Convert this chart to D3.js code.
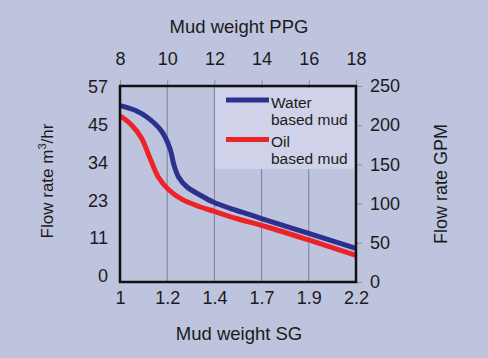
<!DOCTYPE html>
<html>
<head>
<meta charset="utf-8">
<script src="https://cdn.jsdelivr.net/npm/d3@7"></script>
<style>
  html, body { margin: 0; padding: 0; background: #bec3de; }
  svg { display: block; font-family: "Liberation Sans", Arial, sans-serif; }
</style>
</head>
<body>
<svg id="chart" width="488" height="358"></svg>
<script>
// ---- data ----
const ppgTicks = [8, 10, 12, 14, 16, 18];
const sgLabels = ["1", "1.2", "1.4", "1.7", "1.9", "2.2"];
const m3hrLabels = ["0", "11", "23", "34", "45", "57"];
const gpmTicks = [0, 50, 100, 150, 200, 250];

const waterPPG = [8, 8.64, 9.2, 9.77, 10.12, 10.28, 10.48, 10.83, 11.39, 11.95, 12.66, 13.5, 14.2, 16, 18];
const waterGPM = [225, 219, 209, 192, 170, 150, 134, 121.5, 111, 102, 94, 86, 79, 62, 43];
const oilPPG   = [8, 8.5, 8.92, 9.27, 9.62, 10.05, 10.65, 11.39, 12, 12.94, 14.2, 16, 18];
const oilGPM   = [212, 200, 183, 158, 134, 118, 105, 96, 90, 81, 70.5, 53.6, 34];

const seriesNames = ["Water\nbased mud", "Oil\nbased mud"];
const seriesColors = ["#2c3190", "#ec2428"];

// ---- layout ----
const L = 120, R = 356, T = 86, B = 282;
const svg = d3.select("#chart");
const fontSize = 18;

svg.append("rect").attr("width", 488).attr("height", 358).attr("fill", "#bec3de");

const x = d3.scaleLinear().domain([8, 18]).range([L, R]);
const y = d3.scaleLinear().domain([0, 250]).range([B, T]);
const xSG = d3.scalePoint().domain(sgLabels).range([L, R]);
const yM3 = d3.scalePoint().domain(m3hrLabels).range([276, 87]);

// gridlines
svg.append("g").selectAll("line")
  .data(ppgTicks.slice(1, -1))
  .join("line")
  .attr("x1", d => x(d)).attr("x2", d => x(d))
  .attr("y1", T).attr("y2", B)
  .attr("stroke", "#7b7f93").attr("stroke-width", 1);

// axes
function styleAxis(g, tickColor) {
  g.select(".domain").remove();
  g.selectAll(".tick line").attr("stroke", tickColor).attr("stroke-width", 1);
  g.selectAll(".tick text").attr("fill", "#1b1b1b").attr("font-size", fontSize)
    .attr("font-family", "'Liberation Sans', Arial, sans-serif");
}

svg.append("g").attr("transform", `translate(0,${T})`)
  .call(d3.axisTop(x).tickValues(ppgTicks).tickFormat(d3.format("d")).tickSize(6).tickPadding(15))
  .call(g => styleAxis(g, "#8a8ea3"));

svg.append("g").attr("transform", `translate(0,${B})`)
  .call(d3.axisBottom(xSG).tickSize(0).tickPadding(9))
  .call(g => styleAxis(g, "none"));

svg.append("g").attr("transform", `translate(${R},0)`)
  .call(d3.axisRight(y).tickValues(gpmTicks).tickSize(6).tickPadding(8))
  .call(g => styleAxis(g, "#8a8ea3"));

svg.append("g").attr("transform", `translate(${L},0)`)
  .call(d3.axisLeft(yM3).tickSize(0).tickPadding(12))
  .call(g => styleAxis(g, "none"));

// legend background
const lg = svg.append("g");
lg.append("rect").attr("x", 215).attr("y", 88).attr("width", 139).attr("height", 81)
  .attr("fill", "#cfd2e8");

// lines
const line = d3.line().x(d => x(d[0])).y(d => y(d[1])).curve(d3.curveCatmullRom.alpha(0.5));
const series = [d3.zip(waterPPG, waterGPM), d3.zip(oilPPG, oilGPM)];
svg.append("g").selectAll("path")
  .data(series)
  .join("path")
  .attr("d", line)
  .attr("fill", "none")
  .attr("stroke", (d, i) => seriesColors[i])
  .attr("stroke-width", 5);

// legend entries
seriesNames.forEach((name, i) => {
  const y0 = 100 + i * 39.5;
  lg.append("line").attr("x1", 226).attr("x2", 269).attr("y1", y0).attr("y2", y0)
    .attr("stroke", seriesColors[i]).attr("stroke-width", 5);
  const parts = name.split("\n");
  parts.forEach((p, j) => {
    lg.append("text").attr("x", 271).attr("y", y0 + 7.5 + j * 17)
      .attr("font-size", 15.5).attr("fill", "#1b1b1b").text(p);
  });
});

// plot border
svg.append("rect").attr("x", L).attr("y", T).attr("width", R - L).attr("height", B - T)
  .attr("fill", "none").attr("stroke", "#111").attr("stroke-width", 2.5);

// titles
svg.append("text").attr("x", 239).attr("y", 33).attr("text-anchor", "middle")
  .attr("font-size", 18.5).attr("fill", "#1b1b1b").text("Mud weight PPG");
svg.append("text").attr("x", 239).attr("y", 340).attr("text-anchor", "middle")
  .attr("font-size", 18.5).attr("fill", "#1b1b1b").text("Mud weight SG");

const lt = svg.append("text")
  .attr("transform", "translate(53,181) rotate(-90)")
  .attr("text-anchor", "middle").attr("font-size", 17).attr("fill", "#1b1b1b");
lt.append("tspan").text("Flow rate m");
lt.append("tspan").attr("font-size", 11).attr("dy", -7).text("3");
lt.append("tspan").attr("dy", 7).text("/hr");

svg.append("text")
  .attr("transform", "translate(447,184) rotate(-90)")
  .attr("text-anchor", "middle").attr("font-size", 18).attr("fill", "#1b1b1b")
  .text("Flow rate GPM");
</script>
</body>
</html>
